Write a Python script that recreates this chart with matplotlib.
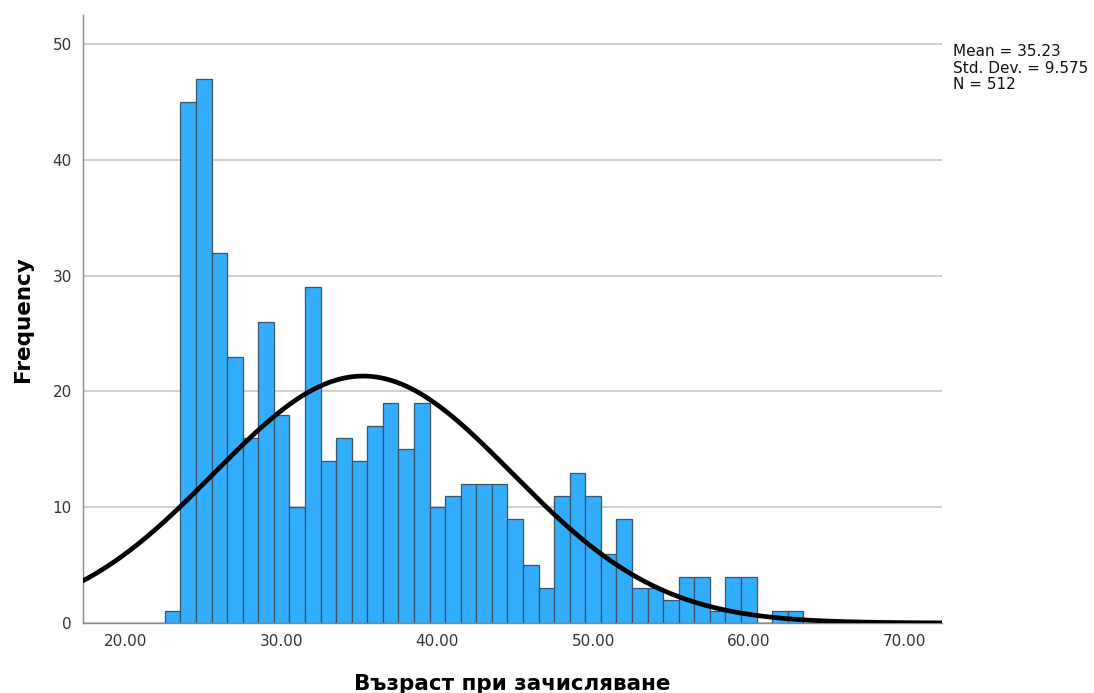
import numpy as np
import matplotlib
matplotlib.use("Agg")
from matplotlib import pyplot as plt

# age at enrolment, one bin per year
ages = list(range(23, 64))
counts = [1, 45, 47, 32, 23, 16, 26, 18, 10, 29,
          14, 16, 14, 17, 19, 15, 19, 10, 11, 12,
          12, 12, 9, 5, 3, 11, 13, 11, 6, 9,
          3, 3, 2, 4, 4, 1, 4, 4, 0, 1, 1]
mean = 35.23
std_dev = 9.575
n_total = 512
x_ticks = [20, 30, 40, 50, 60, 70]
y_ticks = [0, 10, 20, 30, 40, 50]

plt.rcParams['font.family'] = ['DejaVu Sans']

fig = plt.figure(figsize=(10.94, 6.93), dpi=100)
ax = fig.add_axes([0.0759, 0.101, 0.785, 0.877])

ax.bar(ages, counts, width=1.0, color='#33adfe', edgecolor='#3c5566',
       linewidth=0.9, zorder=2)

# fitted normal curve scaled to counts per 1-year bin
xs = np.linspace(17.2, 72.4, 400)
pdf = np.exp(-0.5 * ((xs - mean) / std_dev) ** 2) / (std_dev * np.sqrt(2 * np.pi))
ax.plot(xs, pdf * n_total * 1.0, color='black', linewidth=3.4, zorder=3)

ax.set_xlim(17.24, 72.4)
ax.set_ylim(0, 52.5)
ax.set_xticks(x_ticks)
ax.set_xticklabels([f'{t:.2f}' for t in x_ticks])
ax.set_yticks(y_ticks)
ax.tick_params(length=0, labelsize=11, colors='#333333', pad=8)
ax.yaxis.grid(True, color='#c8c8c8', linewidth=1.2, zorder=0)
ax.set_axisbelow(True)

for side in ('top', 'right'):
    ax.spines[side].set_visible(False)
for side in ('left', 'bottom'):
    ax.spines[side].set_color('#888888')
    ax.spines[side].set_linewidth(1.0)

ax.set_xlabel('Възраст при зачисляване', fontsize=15.5, fontweight='bold',
              labelpad=18)
ax.set_ylabel('Frequency', fontsize=15.5, fontweight='bold', labelpad=14)

fig.text(0.871, 0.936, f'Mean = {mean:.2f}\nStd. Dev. = {std_dev:.3f}\nN = {n_total}',
         fontsize=11, color='#111111', va='top', ha='left', linespacing=1.12)

fig.savefig('out.png', dpi=100)
